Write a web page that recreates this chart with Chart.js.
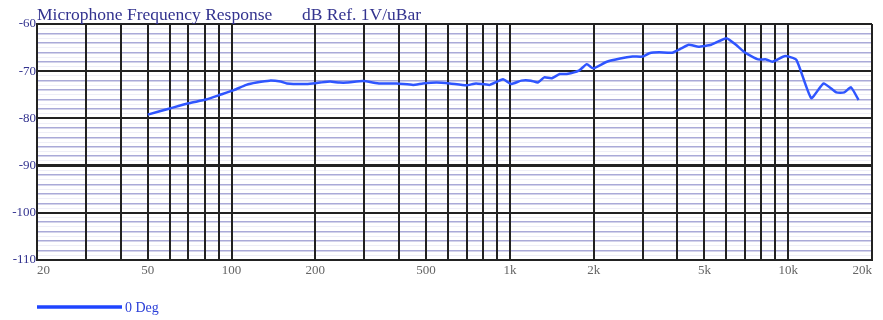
<!DOCTYPE html>
<html>
<head>
<meta charset="utf-8">
<script src="https://cdn.jsdelivr.net/npm/chart.js@4/dist/chart.umd.min.js"></script>
<style>
  html, body { margin: 0; padding: 0; background: #fff; }
  #wrap { width: 883px; height: 320px; position: relative; }
</style>
</head>
<body>
<div id="wrap"><canvas id="chart"></canvas></div>
<script>
// ---------------- datos ----------------
const titleMain = "Microphone Frequency Response";
const titleRef = "dB Ref. 1V/uBar";
const seriesName = "0 Deg";

const freqTicks = [20, 30, 40, 50, 60, 70, 80, 90,
                   100, 200, 300, 400, 500, 600, 700, 800, 900,
                   1000, 2000, 3000, 4000, 5000, 6000, 7000, 8000, 9000,
                   10000, 20000];
const freqLabels = { 20: "20", 50: "50", 100: "100", 200: "200", 500: "500",
                     1000: "1k", 2000: "2k", 5000: "5k", 10000: "10k", 20000: "20k" };

const freqs = [50, 60, 70, 81, 91, 102, 113, 123, 137, 150, 158, 186, 208, 226, 244,
               260, 297, 341, 392, 449, 487, 545, 608, 697, 756, 847, 945, 1010, 1100,
               1190, 1260, 1330, 1410, 1510, 1600, 1770, 1890, 1990, 2230, 2490, 2760,
               3000, 3170, 3440, 3830, 4150, 4390, 4760, 5290, 6000, 6490, 7010, 7800,
               8330, 8780, 9750, 10700, 12100, 13400, 14900, 15900, 16800, 17900];
const dB0 = [-79.2, -77.9, -76.8, -76.0, -75.0, -74.0, -72.9, -72.4, -72.0, -72.2, -72.6, -72.7, -72.4, -72.2, -72.4,
             -72.4, -72.1, -72.6, -72.6, -72.9, -72.6, -72.4, -72.6, -73.0, -72.6, -72.9, -71.7, -72.7, -72.0,
             -72.0, -72.4, -71.3, -71.5, -70.6, -70.6, -69.9, -68.5, -69.4, -68.0, -67.3, -66.9,
             -66.9, -66.2, -66.0, -66.1, -65.1, -64.4, -64.8, -64.4, -63.0, -64.4, -66.1, -67.5,
             -67.5, -68.0, -66.8, -67.6, -75.7, -72.6, -74.5, -74.5, -73.4, -76.1];

const yMin = -110, yMax = -60;

// ---------------- plugin: titulo y leyenda ----------------
const extrasPlugin = {
  id: "extras",
  afterDraw(chart) {
    const c = chart.ctx;
    const a = chart.chartArea;
    c.save();
    c.fillStyle = "#33338f";
    c.font = "17.5px 'Liberation Serif', 'DejaVu Serif', serif";
    c.textBaseline = "alphabetic";
    c.fillText(titleMain, a.left, 20);
    c.fillText(titleRef, 302, 20);
    // leyenda
    c.strokeStyle = "#1f44ff";
    c.lineWidth = 3.5;
    c.beginPath();
    c.moveTo(a.left, 307);
    c.lineTo(122, 307);
    c.stroke();
    c.fillStyle = "#2b3fd8";
    c.font = "14px 'Liberation Serif', 'DejaVu Serif', serif";
    c.fillText(seriesName, 125, 312);
    c.restore();
  }
};

function yGridColor(ctx) {
  const v = ctx.tick ? ctx.tick.value : 0;
  if (v % 10 === 0) return "#222";
  if (v % 2 === 0) return "#aaaad8";
  return "#eeeef7";
}
function yGridWidth(ctx) {
  const v = ctx.tick ? ctx.tick.value : 0;
  if (v === -90) return 3;
  if (v % 10 === 0) return 2;
  if (v % 2 === 0) return 1.5;
  return 1;
}

const ctx = document.getElementById("chart");
const myChart = new Chart(ctx, {
  type: "line",
  data: {
    datasets: [{
      label: seriesName,
      data: freqs.map((f, i) => ({ x: f, y: dB0[i] })),
      borderColor: "#2f55ff",
      backgroundColor: "#2f55ff",
      borderWidth: 2.5,
      pointRadius: 0,
      tension: 0.15,
      fill: false
    }]
  },
  options: {
    responsive: true,
    maintainAspectRatio: false,
    animation: false,
    layout: { padding: { top: 24, right: 11, left: 0, bottom: 0 } },
    plugins: {
      legend: { display: false },
      title: { display: false },
      tooltip: { enabled: false }
    },
    scales: {
      x: {
        type: "logarithmic",
        min: 20,
        max: 20000,
        afterBuildTicks(scale) {
          scale.ticks = freqTicks.map(v => ({ value: v }));
        },
        afterFit(scale) { scale.height = 60; },
        ticks: {
          autoSkip: false,
          maxRotation: 0,
          align: "inner",
          padding: 3,
          color: "#666",
          font: { family: "'Liberation Serif', serif", size: 13 },
          callback: v => freqLabels[v] || ""
        },
        grid: { color: "#222", lineWidth: 2, drawTicks: false, z: -1 },
        border: { color: "#222", width: 2 }
      },
      y: {
        min: yMin,
        max: yMax,
        afterFit(scale) { scale.width = 37; },
        ticks: {
          stepSize: 1,
          autoSkip: false,
          padding: 1,
          color: "#33338f",
          font: { family: "'Liberation Serif', serif", size: 13 },
          callback: v => (v % 10 === 0 ? String(v) : "")
        },
        grid: { color: yGridColor, lineWidth: yGridWidth, drawTicks: false, z: -2 },
        border: { color: "#222", width: 2 }
      }
    }
  },
  plugins: [extrasPlugin]
});
</script>
</body>
</html>
